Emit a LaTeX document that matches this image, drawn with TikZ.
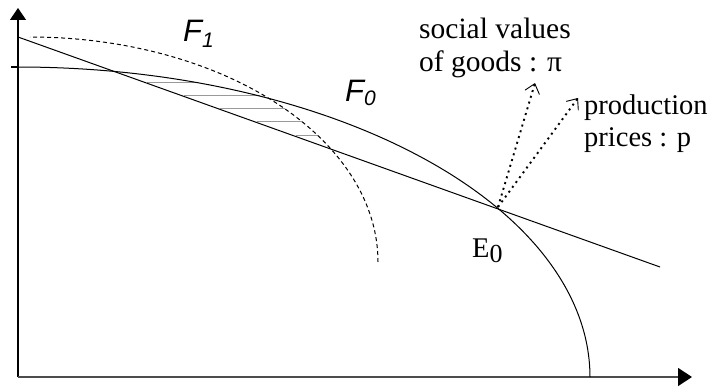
\documentclass[tikz,border=0pt]{standalone}
\usepackage{fontspec}
\setmainfont{Liberation Serif}
\newfontfamily\helv{Liberation Sans}
\usetikzlibrary{arrows.meta}
\tikzset{
  curve/.style={line width=1pt, black},
  axisline/.style={line width=1.3pt},
  hatch/.style={line width=1pt, gray!80},
  flabel/.style={inner sep=0pt, anchor=base west, font=\helv\itshape\fontsize{31}{31}\selectfont},
  tlabel/.style={inner sep=0pt, anchor=base west, font=\fontsize{28.5}{32}\selectfont},
  svlabel/.style={tlabel, font=\fontsize{29.5}{32}\selectfont},
  dotarrow/.style={line width=1.9pt, dash pattern=on 2pt off 4pt,
    -{Straight Barb[length=9pt,width=15pt,line width=0.9pt]}}
}
\begin{document}
\begin{tikzpicture}[x=1pt,y=-1pt]
\useasboundingbox (0,0) rectangle (709,387);
\coordinate (O) at (18,377);
\coordinate (ytop) at (18,8);
\coordinate (xend) at (692,377);
\coordinate (tick) at (11,67);
\coordinate (tickr) at (18,67);
\coordinate (L1) at (18,37);
\coordinate (L2) at (660,267);
\coordinate (E0) at (498,207);
\coordinate (piTip) at (535,83);
\coordinate (pTip) at (578,98);
% axes
\draw[axisline, -{Triangle[length=12pt,width=16pt]}] (O) -- (ytop);
\draw[axisline, gray!60!black, -{Triangle[length=14pt,width=18pt,color=black]}] (O) -- (xend);
\draw[axisline] (tick) -- (tickr);
% hatch lines
\draw[hatch] (147,83) -- (199,83);
\draw[hatch] (184,96) -- (260,96);
\draw[hatch] (220,109) -- (285,109);
\draw[hatch] (257,122) -- (302,122);
\draw[hatch] (296,136) -- (318,136);
% F0 frontier
\draw[curve] plot[domain=0:90, samples=80, smooth] ({18+572*cos(\x)}, {377-310*sin(\x)});
% F1 frontier
\draw[curve, dash pattern=on 4pt off 3pt] plot[domain=0:90, samples=80, smooth] ({30+348*cos(\x)}, {262-225*sin(\x)});
% price line
\draw[curve] (L1) -- (L2);
% arrows
\draw[dotarrow] (E0) -- (piTip);
\draw[dotarrow] (E0) -- (pTip);
% labels
\node[flabel] (F1) at (183,42) {F\raisebox{-6pt}{\fontsize{21}{21}\selectfont 1}};
\node[flabel] (F0) at (345,102) {F\raisebox{-4pt}{\fontsize{21}{21}\selectfont 0}};
\node[tlabel] (E0lab) at (472,258) {E\raisebox{-5pt}{\fontsize{26}{26}\selectfont 0}};
\node[svlabel] (sv1) at (419,39) {social values};
\node[svlabel] (sv2) at (419,72) {of goods : π};
\node[tlabel] (pp1) at (584,115) {production};
\node[tlabel] (pp2) at (584,147) {prices : p};
\end{tikzpicture}
\end{document}
